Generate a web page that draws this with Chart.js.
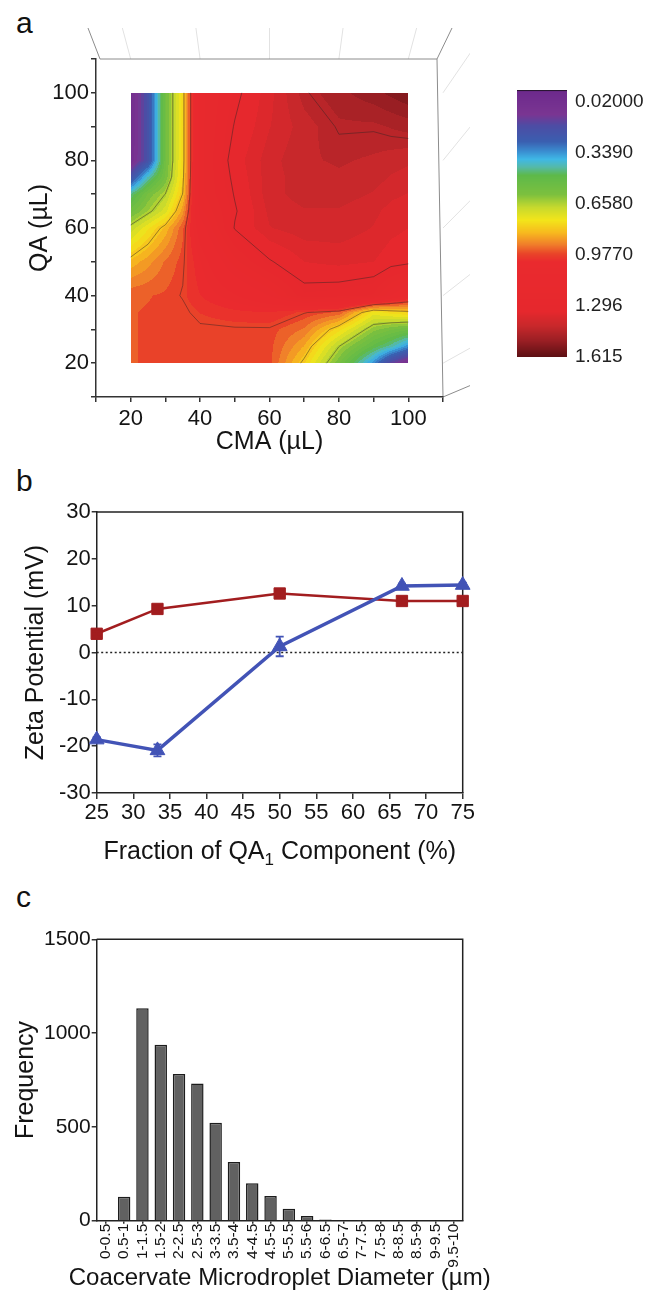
<!DOCTYPE html>
<html lang="en">
<head>
<meta charset="utf-8">
<title>Coacervate figure</title>
<script src="https://cdn.jsdelivr.net/npm/chart.js@4.4.1/dist/chart.umd.min.js"></script>
<style>
  html, body { margin: 0; padding: 0; background: #fff; }
  body { position: relative; width: 647px; height: 1303px; overflow: hidden; font-family: "Liberation Sans", Arial, sans-serif; }
  canvas { position: absolute; }
  .tag { position: absolute; font-size: 30px; line-height: 30px; color: #111; }
</style>
</head>
<body>
<div class="tag" style="left:16px; top:8px;">a</div>
<div class="tag" style="left:16px; top:466px;">b</div>
<div class="tag" style="left:16px; top:882px;">c</div>
<canvas id="contour" width="470" height="460" style="left:0; top:0;"></canvas>
<canvas id="colorbar" width="147" height="310" style="left:500px; top:70px;"></canvas>
<canvas id="zeta" width="500" height="400" style="left:0; top:470px;"></canvas>
<canvas id="histogram" width="500" height="423" style="left:0; top:880px;"></canvas>

<script>
// ---- panel a : droplet size map (CMA x QA volumes) ----
const cmaVolumes = [20, 25, 30, 35, 40, 50, 60, 70, 80, 90, 95, 100];
const qaVolumes = [20, 25, 30, 35, 40, 50, 60, 65, 70, 75, 80, 90, 100];
// one row per QA volume (20 -> 100), one column per CMA volume
const sizeGrid = [
  [0.955, 0.96, 0.965, 0.968, 0.97, 0.97, 0.968, 0.80, 0.58, 0.33, 0.14, 0.03],  // QA 20
  [0.955, 0.96, 0.965, 0.968, 0.97, 0.97, 0.968, 0.86, 0.66, 0.50, 0.43, 0.33],  // QA 25
  [0.955, 0.96, 0.965, 0.968, 0.97, 0.972, 0.972, 0.92, 0.78, 0.62, 0.58, 0.55], // QA 30
  [0.955, 0.96, 0.965, 0.968, 0.99, 1.01, 1.02, 0.98, 0.95, 0.75, 0.78, 0.80],   // QA 35
  [0.95, 0.955, 0.962, 0.98, 1.02, 1.08, 1.15, 1.27, 1.26, 1.24, 1.15, 1.08],    // QA 40
  [0.84, 0.88, 0.93, 0.97, 1.05, 1.20, 1.29, 1.34, 1.35, 1.34, 1.32, 1.31],      // QA 50
  [0.68, 0.76, 0.84, 0.95, 1.12, 1.30, 1.37, 1.39, 1.39, 1.37, 1.35, 1.34],      // QA 60
  [0.56, 0.64, 0.72, 0.88, 1.17, 1.29, 1.38, 1.40, 1.40, 1.38, 1.36, 1.35],      // QA 65
  [0.45, 0.58, 0.66, 0.82, 1.20, 1.30, 1.39, 1.42, 1.42, 1.40, 1.38, 1.37],      // QA 70
  [0.20, 0.42, 0.58, 0.80, 1.20, 1.31, 1.39, 1.42, 1.43, 1.42, 1.40, 1.39],      // QA 75
  [0.03, 0.20, 0.56, 0.79, 1.20, 1.32, 1.39, 1.43, 1.44, 1.43, 1.42, 1.41],      // QA 80
  [0.02, 0.20, 0.56, 0.79, 1.20, 1.30, 1.37, 1.42, 1.46, 1.46, 1.47, 1.48],      // QA 90
  [0.02, 0.20, 0.56, 0.79, 1.20, 1.28, 1.36, 1.45, 1.49, 1.52, 1.54, 1.56]       // QA 100
];
const volumeTicks = [10, 20, 30, 40, 50, 60, 70, 80, 90, 100, 110];
const volumeLabels = [20, 40, 60, 80, 100];
const contourLevels = [0.658, 0.8175, 0.977, 1.296, 1.4555];
const colorbarTicks = [0.02, 0.339, 0.658, 0.977, 1.296, 1.615];
const colorbarLabels = ['0.02000', '0.3390', '0.6580', '0.9770', '1.296', '1.615'];

// ---- panel b : zeta potential ----
const qaFraction = [25, 33.3, 50, 66.7, 75];
const zetaRed = [4.0, 9.3, 12.6, 11.0, 11.0];
const zetaRedErr = [0.5, 0.6, 0.5, 0.4, 0.4];
const zetaBlue = [-18.6, -20.9, 1.3, 14.2, 14.4];
const zetaBlueErr = [0.5, 1.3, 2.1, 0.5, 0.5];
const zeroLevel = 0;

// ---- panel c : diameter histogram ----
const diameterBins = ['0-0.5', '0.5-1', '1-1.5', '1.5-2', '2-2.5', '2.5-3', '3-3.5', '3.5-4', '4-4.5', '4.5-5',
  '5-5.5', '5.5-6', '6-6.5', '6.5-7', '7-7.5', '7.5-8', '8-8.5', '8.5-9', '9-9.5', '9.5-10'];
const binCounts = [0, 128, 1132, 938, 782, 732, 522, 313, 199, 132, 64, 25, 7, 3, 1, 0, 0, 0, 0, 0];

const FONT = '"Liberation Sans", Arial, Helvetica, sans-serif';
const INK = '#141414';
const RED = '#a21d1f';
const BLUE = '#4253b6';

Chart.defaults.font.family = FONT;
Chart.defaults.color = INK;
Chart.defaults.animation = false;
Chart.defaults.responsive = false;
Chart.defaults.events = [];
Chart.defaults.plugins.legend.display = false;
Chart.defaults.plugins.tooltip.enabled = false;

// colour map of the size scale (value -> colour)
const cmapStops = [
  [-0.053, '#0b0b0b'], [-0.043, '#6d2a8c'], [0.10, '#7a3592'], [0.17, '#4d4ca4'], [0.27, '#3a5fb0'],
  [0.33, '#3a8dd0'], [0.38, '#3fb8e6'], [0.43, '#55b9a6'], [0.48, '#5db94a'], [0.60, '#7cc03e'],
  [0.68, '#c6d92e'], [0.76, '#f3e51a'], [0.84, '#f7b81e'], [0.91, '#f0802a'], [0.97, '#e94429'],
  [1.02, '#ea2a2e'], [1.33, '#e6282d'], [1.42, '#c8282b'], [1.51, '#9c1f24'], [1.615, '#5c1014']
];
const cmapRgb = cmapStops.map(([v, h]) => [v, [1, 3, 5].map(k => parseInt(h.slice(k, k + 2), 16))]);

function colorFor(v) {
  if (v <= cmapRgb[0][0]) return cmapRgb[0][1];
  for (let k = 1; k < cmapRgb.length; k++) {
    if (v <= cmapRgb[k][0]) {
      const [v0, c0] = cmapRgb[k - 1];
      const [v1, c1] = cmapRgb[k];
      const t = (v - v0) / (v1 - v0);
      return c0.map((ch, i) => Math.round(ch + t * (c1[i] - ch)));
    }
  }
  return cmapRgb[cmapRgb.length - 1][1];
}

const bandStep = (1.615 - 0.02) / 50;
const quantize = v => (Math.floor(v / bandStep) + 0.5) * bandStep;

function cellIndex(arr, v) {
  for (let i = 0; i < arr.length - 2; i++) if (v < arr[i + 1]) return i;
  return arr.length - 2;
}

// bilinear value inside the grid
function sizeAt(c, q) {
  const i = cellIndex(cmaVolumes, c), j = cellIndex(qaVolumes, q);
  const tx = (c - cmaVolumes[i]) / (cmaVolumes[i + 1] - cmaVolumes[i]);
  const ty = (q - qaVolumes[j]) / (qaVolumes[j + 1] - qaVolumes[j]);
  const a = sizeGrid[j][i], b = sizeGrid[j][i + 1], d = sizeGrid[j + 1][i], e = sizeGrid[j + 1][i + 1];
  return a * (1 - tx) * (1 - ty) + b * tx * (1 - ty) + d * (1 - tx) * ty + e * tx * ty;
}

// marching squares -> list of segments in data units
function contourSegments(level) {
  const segs = [];
  for (let j = 0; j < qaVolumes.length - 1; j++) {
    for (let i = 0; i < cmaVolumes.length - 1; i++) {
      const c0 = cmaVolumes[i], c1 = cmaVolumes[i + 1], q0 = qaVolumes[j], q1 = qaVolumes[j + 1];
      const v00 = sizeGrid[j][i], v10 = sizeGrid[j][i + 1], v01 = sizeGrid[j + 1][i], v11 = sizeGrid[j + 1][i + 1];
      const pts = [];
      const edge = (a, b, pa, pb) => {
        if ((a < level) !== (b < level)) {
          const t = (level - a) / (b - a);
          pts.push([pa[0] + t * (pb[0] - pa[0]), pa[1] + t * (pb[1] - pa[1])]);
        } else pts.push(null);
      };
      edge(v00, v10, [c0, q0], [c1, q0]);
      edge(v10, v11, [c1, q0], [c1, q1]);
      edge(v11, v01, [c1, q1], [c0, q1]);
      edge(v01, v00, [c0, q1], [c0, q0]);
      const hit = pts.filter(p => p);
      if (hit.length === 2) segs.push(hit);
      else if (hit.length === 4) {
        const mid = (v00 + v10 + v01 + v11) / 4;
        if ((mid < level) === (v00 < level)) { segs.push([pts[0], pts[1]]); segs.push([pts[2], pts[3]]); }
        else { segs.push([pts[0], pts[3]]); segs.push([pts[1], pts[2]]); }
      }
    }
  }
  return segs;
}

const contourFill = {
  id: 'contourFill',
  beforeDatasetsDraw(chart) {
    const { ctx, scales: { x, y } } = chart;
    const left = Math.round(x.getPixelForValue(cmaVolumes[0]));
    const right = Math.round(x.getPixelForValue(cmaVolumes[cmaVolumes.length - 1]));
    const top = Math.round(y.getPixelForValue(qaVolumes[qaVolumes.length - 1]));
    const bottom = Math.round(y.getPixelForValue(qaVolumes[0]));
    const w = right - left, h = bottom - top;
    const off = document.createElement('canvas');
    off.width = w; off.height = h;
    const octx = off.getContext('2d');
    const img = octx.createImageData(w, h);
    for (let py = 0; py < h; py++) {
      const q = y.getValueForPixel(top + py + 0.5);
      for (let px = 0; px < w; px++) {
        const c = x.getValueForPixel(left + px + 0.5);
        const rgb = colorFor(quantize(sizeAt(c, q)));
        const k = (py * w + px) * 4;
        img.data[k] = rgb[0]; img.data[k + 1] = rgb[1]; img.data[k + 2] = rgb[2]; img.data[k + 3] = 255;
      }
    }
    octx.putImageData(img, 0, 0);
    ctx.drawImage(off, left, top);

    ctx.save();
    ctx.strokeStyle = 'rgba(55,35,35,0.6)';
    ctx.lineWidth = 0.8;
    contourLevels.forEach(level => {
      ctx.beginPath();
      contourSegments(level).forEach(([p0, p1]) => {
        ctx.moveTo(x.getPixelForValue(p0[0]), y.getPixelForValue(p0[1]));
        ctx.lineTo(x.getPixelForValue(p1[0]), y.getPixelForValue(p1[1]));
      });
      ctx.stroke();
    });
    ctx.restore();
  }
};

// the 3d box that surrounds the top view
const boxFrame3d = {
  id: 'boxFrame3d',
  beforeDraw(chart) {
    const { ctx, chartArea: { left: L, top: T, right: R, bottom: B }, scales: { x, y } } = chart;
    ctx.save();
    ctx.lineWidth = 1;
    ctx.strokeStyle = '#e2e2e2';
    volumeLabels.forEach(v => {
      const px = x.getPixelForValue(v);
      const mid = (L + R) / 2;
      ctx.beginPath();
      ctx.moveTo(px, T);
      ctx.lineTo(px + (px - mid) * 0.06, T - 31);
      ctx.stroke();
    });
    volumeLabels.forEach(v => {
      const py = y.getPixelForValue(v);
      ctx.beginPath();
      ctx.moveTo(R, py);
      ctx.lineTo(R + 45, py - (20 + (B - py) * 0.15));
      ctx.stroke();
    });
    ctx.strokeStyle = '#8c8c8c';
    ctx.beginPath();
    ctx.moveTo(L + 4, T); ctx.lineTo(R - 6, T); ctx.lineTo(R, B);
    ctx.moveTo(L + 4, T); ctx.lineTo(L - 8, T - 31);
    ctx.moveTo(R - 6, T); ctx.lineTo(R + 9, T - 31);
    ctx.moveTo(R + 45, T - 25); ctx.lineTo(R + 45, B - 19); ctx.lineTo(R, B);
    ctx.stroke();
    ctx.restore();
  }
};

const tickMarks = { display: true, drawOnChartArea: false, drawTicks: true, tickLength: 5, color: '#333', lineWidth: 1.5 };

new Chart(document.getElementById('contour'), {
  type: 'scatter',
  data: {
    datasets: [{
      data: cmaVolumes.flatMap(c => qaVolumes.map(q => ({ x: c, y: q }))),
      pointRadius: 0
    }]
  },
  options: {
    layout: { padding: { top: 59, right: 27, left: 0, bottom: 0 } },
    scales: {
      x: {
        type: 'linear', min: 10, max: 110,
        afterFit(s) { s.height = 63; },
        afterBuildTicks(s) { s.ticks = volumeTicks.map(v => ({ value: v })); },
        ticks: { autoSkip: false, maxRotation: 0, padding: 4, font: { size: 22 },
          callback: v => volumeLabels.includes(v) ? String(v) : '' },
        grid: tickMarks,
        border: { display: true, color: '#333', width: 1.5 },
        title: { display: true, text: 'CMA (µL)', font: { size: 25 }, padding: { top: 0, bottom: 3 } }
      },
      y: {
        type: 'linear', min: 10, max: 110,
        afterFit(s) { s.width = 96; },
        afterBuildTicks(s) { s.ticks = volumeTicks.map(v => ({ value: v })); },
        ticks: { autoSkip: false, padding: 2, font: { size: 22 },
          callback: v => volumeLabels.includes(v) ? String(v) : '' },
        grid: tickMarks,
        border: { display: true, color: '#333', width: 1.5 },
        title: { display: true, text: 'QA (µL)', font: { size: 25 }, padding: { top: 25, bottom: 0 } }
      }
    }
  },
  plugins: [boxFrame3d, contourFill]
});

// colour bar
const colorbarPaint = {
  id: 'colorbarPaint',
  beforeDraw(chart) {
    const { ctx, chartArea: { left, right, top, bottom }, scales: { y } } = chart;
    for (let py = Math.floor(top); py < Math.ceil(bottom); py++) {
      const rgb = colorFor(y.getValueForPixel(py + 0.5));
      ctx.fillStyle = `rgb(${rgb[0]},${rgb[1]},${rgb[2]})`;
      ctx.fillRect(left, py, right - left, 1);
    }
  }
};

new Chart(document.getElementById('colorbar'), {
  type: 'scatter',
  data: { datasets: [{ data: [] }] },
  options: {
    layout: { padding: { left: 17, top: 20, right: 0, bottom: 23 } },
    scales: {
      x: { display: false, min: 0, max: 1 },
      y: {
        position: 'right', reverse: true, min: -0.053, max: 1.615,
        afterFit(s) { s.width = 80; },
        afterBuildTicks(s) { s.ticks = colorbarTicks.map(v => ({ value: v })); },
        ticks: { padding: 8, font: { size: 19 }, color: '#222',
          callback: (v, i) => colorbarLabels[i] },
        grid: { display: false, drawTicks: false },
        border: { display: false }
      }
    }
  },
  plugins: [colorbarPaint]
});

// ---- panel b ----
const closedBox = {
  id: 'closedBox',
  beforeDatasetsDraw(chart) {
    const { ctx, chartArea: { left, top, right, bottom } } = chart;
    ctx.save();
    ctx.strokeStyle = '#222';
    ctx.lineWidth = 1.5;
    ctx.beginPath();
    ctx.moveTo(left, top); ctx.lineTo(right, top); ctx.lineTo(right, bottom);
    ctx.stroke();
    ctx.restore();
  }
};

const errorBars = {
  id: 'errorBars',
  afterDatasetsDraw(chart) {
    const { ctx, scales: { x, y } } = chart;
    chart.data.datasets.forEach(ds => {
      if (!ds.errors) return;
      ctx.save();
      ctx.strokeStyle = ds.borderColor;
      ctx.lineWidth = 1.8;
      ds.data.forEach((pt, i) => {
        const px = x.getPixelForValue(pt.x);
        const y1 = y.getPixelForValue(pt.y + ds.errors[i]);
        const y2 = y.getPixelForValue(pt.y - ds.errors[i]);
        ctx.beginPath();
        ctx.moveTo(px, y1); ctx.lineTo(px, y2);
        ctx.moveTo(px - 4, y1); ctx.lineTo(px + 4, y1);
        ctx.moveTo(px - 4, y2); ctx.lineTo(px + 4, y2);
        ctx.stroke();
      });
      ctx.restore();
    });
  }
};

// x titles drawn by hand: one has a subscript, the other is wider than its plot
function bottomTitle(parts, baseline) {
  return {
    id: 'bottomTitle',
    afterDraw(chart) {
      const { ctx, chartArea: { left, right } } = chart;
      ctx.save();
      ctx.fillStyle = INK;
      ctx.textBaseline = 'alphabetic';
      ctx.textAlign = 'left';
      let total = 0;
      parts.forEach(([t, s]) => { ctx.font = `${s}px ${FONT}`; total += ctx.measureText(t).width; });
      let cx = (left + right) / 2 - total / 2;
      parts.forEach(([t, s, dy]) => {
        ctx.font = `${s}px ${FONT}`;
        ctx.fillText(t, cx, baseline + dy);
        cx += ctx.measureText(t).width;
      });
      ctx.restore();
    }
  };
}

new Chart(document.getElementById('zeta'), {
  type: 'line',
  data: {
    datasets: [
      {
        data: [{ x: qaFraction[0], y: zeroLevel }, { x: qaFraction[qaFraction.length - 1], y: zeroLevel }],
        borderColor: '#222', borderWidth: 1.5, borderDash: [2, 2.5], pointRadius: 0, order: 3
      },
      {
        data: qaFraction.map((v, i) => ({ x: v, y: zetaRed[i] })),
        errors: zetaRedErr,
        borderColor: RED, backgroundColor: RED, borderWidth: 2.5,
        pointStyle: 'rect', pointRadius: 8, pointBorderWidth: 1, clip: false, order: 2
      },
      {
        data: qaFraction.map((v, i) => ({ x: v, y: zetaBlue[i] })),
        errors: zetaBlueErr,
        borderColor: BLUE, backgroundColor: BLUE, borderWidth: 3.5,
        pointStyle: 'triangle', pointRadius: 8.5, pointBorderWidth: 1, clip: false, order: 1
      }
    ]
  },
  options: {
    layout: { padding: { top: 42, right: 37.3, left: 0, bottom: 0 } },
    scales: {
      x: {
        type: 'linear', min: 25, max: 75,
        afterFit(s) { s.height = 77; },
        ticks: { stepSize: 5, autoSkip: false, maxRotation: 0, padding: 1, font: { size: 22 } },
        grid: { ...tickMarks, tickLength: 6 },
        border: { display: true, color: '#222', width: 1.5 }
      },
      y: {
        type: 'linear', min: -30, max: 30,
        afterFit(s) { s.width = 96.7; },
        ticks: { stepSize: 10, padding: 1, font: { size: 22 } },
        grid: { ...tickMarks, tickLength: 5 },
        border: { display: true, color: '#222', width: 1.5 },
        title: { display: true, text: 'Zeta Potential (mV)', font: { size: 25 }, padding: { top: 21, bottom: 0 } }
      }
    }
  },
  plugins: [closedBox, errorBars,
    bottomTitle([['Fraction of QA', 25, 0], ['1', 17, 6], [' Component (%)', 25, 0]], 389)]
});

// ---- panel c ----
new Chart(document.getElementById('histogram'), {
  type: 'bar',
  data: {
    labels: diameterBins,
    datasets: [{
      data: binCounts,
      backgroundColor: '#616161',
      borderColor: '#1c1c1c',
      borderWidth: 1.5,
      barPercentage: 0.68,
      categoryPercentage: 1
    }]
  },
  options: {
    layout: { padding: { top: 59.3, right: 37.3, left: 0, bottom: 0 } },
    scales: {
      x: {
        afterFit(s) { s.height = 82.3; },
        ticks: { autoSkip: false, minRotation: 90, maxRotation: 90, padding: 0, font: { size: 15.5 } },
        grid: { ...tickMarks, tickLength: 3, offset: false },
        border: { display: true, color: '#222', width: 1.5 }
      },
      y: {
        min: 0, max: 1500,
        afterFit(s) { s.width = 96.7; },
        ticks: { stepSize: 500, padding: 1, font: { size: 21 }, callback: v => String(v) },
        grid: { ...tickMarks, tickLength: 5 },
        border: { display: true, color: '#222', width: 1.5 },
        title: { display: true, text: 'Frequency', font: { size: 25 }, padding: { top: 11, bottom: 0 } }
      }
    }
  },
  plugins: [closedBox, bottomTitle([['Coacervate Microdroplet Diameter (µm)', 24, 0]], 405)]
});
</script>
</body>
</html>
